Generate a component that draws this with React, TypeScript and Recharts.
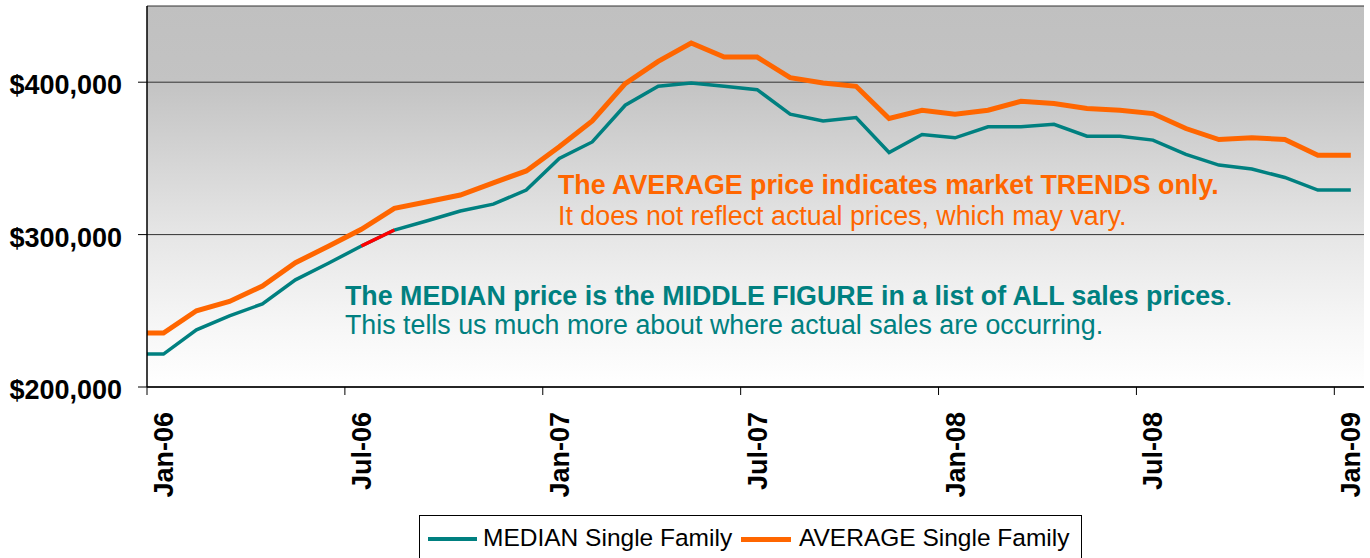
import React from 'react';
import { LineChart, Line, XAxis, YAxis, CartesianGrid } from 'recharts';

// one point per month, plotted mid-month (Dec-05 sits just left of the axis and gets clipped)
const months = [
  'Dec-05',
  'Jan-06', 'Feb-06', 'Mar-06', 'Apr-06', 'May-06', 'Jun-06',
  'Jul-06', 'Aug-06', 'Sep-06', 'Oct-06', 'Nov-06', 'Dec-06',
  'Jan-07', 'Feb-07', 'Mar-07', 'Apr-07', 'May-07', 'Jun-07',
  'Jul-07', 'Aug-07', 'Sep-07', 'Oct-07', 'Nov-07', 'Dec-07',
  'Jan-08', 'Feb-08', 'Mar-08', 'Apr-08', 'May-08', 'Jun-08',
  'Jul-08', 'Aug-08', 'Sep-08', 'Oct-08', 'Nov-08', 'Dec-08',
  'Jan-09',
];

const medianPrices = [
  221600, 221600, 237500, 246700, 254500, 270300, 281200,
  292500, 303000, 309100, 315500, 320000, 329200,
  350000, 360800, 384900, 397300, 399500, 397300,
  395100, 379000, 374600, 376800, 353900, 365700,
  363500, 370700, 370700, 372400, 364600, 364600,
  362000, 352600, 345600, 343000, 337500, 329200,
  329200,
];

const averagePrices = [
  235400, 235400, 250000, 256100, 266300, 281600, 292300,
  303500, 317200, 321600, 326000, 334000, 341800,
  357600, 374600, 399100, 413700, 425700, 416500,
  416500, 403000, 399500, 397300, 376200, 381600,
  379000, 381600, 387500, 386000, 382700, 381600,
  379400, 369600, 362400, 363500, 362400, 352100,
  352100,
];

// the short red piece of the median line
const highlightMonths = ['Jul-06', 'Aug-06'];

const monthTicks = [0, 6, 12, 18, 24, 30, 36];
const monthTickLabels = ['Jan-06', 'Jul-06', 'Jan-07', 'Jul-07', 'Jan-08', 'Jul-08', 'Jan-09'];
const priceTicks = [200000, 300000, 400000];

const FONT = '"Liberation Sans", Arial, sans-serif';
const TEAL = '#008080';
const ORANGE = '#FF6600';
const NOTE_SIZE = 26.8;

const chartData = months.map((m, i) => ({
  month: m,
  t: i - 1 + 0.5,
  median: medianPrices[i],
  average: averagePrices[i],
  highlight: highlightMonths.includes(m) ? medianPrices[i] : null,
}));

const formatPrice = (v: number) => '$' + v.toLocaleString('en-US');

const YTick = (props: any) => {
  const { x, y, payload } = props;
  return (
    <text x={x} y={y + 12} textAnchor="end" fontFamily={FONT} fontSize={27} fontWeight="bold" fill="#000">
      {formatPrice(payload.value)}
    </text>
  );
};

const XTick = (props: any) => {
  const { x, y, payload } = props;
  const idx = monthTicks.indexOf(payload.value);
  const ax = x + 26;
  const ay = y + 17;
  return (
    <text
      x={ax}
      y={ay}
      transform={`rotate(-90, ${ax}, ${ay})`}
      textAnchor="end"
      fontFamily={FONT}
      fontSize={27}
      fontWeight="bold"
      fill="#000"
    >
      {monthTickLabels[idx]}
    </text>
  );
};

const Notes: React.FC = () => (
  <svg width={1370} height={558} style={{ position: 'absolute', left: 0, top: 0, pointerEvents: 'none' }}>
    <text x={558} y={194} fontFamily={FONT} fontSize={NOTE_SIZE} fontWeight="bold" fill={ORANGE}>
      The AVERAGE price indicates market TRENDS only.
    </text>
    <text x={558} y={225} fontFamily={FONT} fontSize={NOTE_SIZE} fill={ORANGE}>
      It does not reflect actual prices, which may vary.
    </text>
    <text x={345} y={305} fontFamily={FONT} fontSize={NOTE_SIZE} fill={TEAL}>
      <tspan fontWeight="bold">The MEDIAN price is the MIDDLE FIGURE in a list of ALL sales prices</tspan>
      <tspan>.</tspan>
    </text>
    <text x={345} y={334} fontFamily={FONT} fontSize={NOTE_SIZE} fill={TEAL}>
      This tells us much more about where actual sales are occurring.
    </text>
  </svg>
);

const LegendBox: React.FC = () => (
  <div
    style={{
      position: 'absolute',
      left: 419,
      top: 515,
      width: 663,
      height: 50,
      border: '1px solid #000',
      background: '#fff',
      fontFamily: FONT,
      fontSize: 24.5,
      color: '#000',
      boxSizing: 'border-box',
    }}
  >
    <div style={{ position: 'absolute', left: 8, top: 21, width: 49, height: 4, background: TEAL }} />
    <div style={{ position: 'absolute', left: 63, top: 8, whiteSpace: 'nowrap' }}>MEDIAN Single Family</div>
    <div style={{ position: 'absolute', left: 321, top: 21, width: 50, height: 5, background: ORANGE }} />
    <div style={{ position: 'absolute', left: 379, top: 8, whiteSpace: 'nowrap' }}>AVERAGE Single Family</div>
  </div>
);

const App: React.FC = () => {
  return (
    <div style={{ position: 'absolute', left: 0, top: 0, width: 1370, height: 558, background: '#fff', overflow: 'hidden' }}>
      <svg width={0} height={0} style={{ position: 'absolute' }}>
        <defs>
          <linearGradient id="plotBg" x1="0" y1="0" x2="0" y2="1">
            <stop offset="0%" stopColor="#c0c0c0" />
            <stop offset="20%" stopColor="#c3c3c3" />
            <stop offset="60%" stopColor="#e6e6e6" />
            <stop offset="85%" stopColor="#f7f7f7" />
            <stop offset="100%" stopColor="#ffffff" />
          </linearGradient>
        </defs>
      </svg>
      <LineChart width={1370} height={558} data={chartData} margin={{ top: 6, right: 6, bottom: 0, left: 0 }}>
        <CartesianGrid vertical={false} stroke="#333" fill="url(#plotBg)" fillOpacity={1} />
        <XAxis
          dataKey="t"
          type="number"
          domain={[0, 36.9]}
          ticks={monthTicks}
          interval={0}
          allowDataOverflow
          height={171}
          tickSize={8}
          tickMargin={0}
          tick={<XTick />}
          axisLine={{ stroke: '#000', strokeWidth: 1.5 }}
          tickLine={{ stroke: '#000' }}
        />
        <XAxis
          xAxisId="top"
          orientation="top"
          dataKey="t"
          type="number"
          domain={[0, 36.9]}
          allowDataOverflow
          height={0}
          tick={false}
          tickLine={false}
          axisLine={{ stroke: '#999' }}
        />
        <YAxis
          type="number"
          domain={[200000, 450000]}
          ticks={priceTicks}
          interval={0}
          width={147}
          tickSize={9}
          tickMargin={16}
          tick={<YTick />}
          axisLine={{ stroke: '#000', strokeWidth: 1.5 }}
          tickLine={{ stroke: '#000' }}
        />
        <YAxis
          yAxisId="right"
          orientation="right"
          type="number"
          domain={[200000, 450000]}
          width={0}
          tick={false}
          tickLine={false}
          axisLine={{ stroke: '#999' }}
        />
        <Line
          type="linear"
          dataKey="median"
          name="MEDIAN Single Family"
          stroke={TEAL}
          strokeWidth={3.5}
          dot={false}
          isAnimationActive={false}
        />
        <Line
          type="linear"
          dataKey="highlight"
          stroke="#FF0000"
          strokeWidth={3.5}
          dot={false}
          legendType="none"
          isAnimationActive={false}
        />
        <Line
          type="linear"
          dataKey="average"
          name="AVERAGE Single Family"
          stroke={ORANGE}
          strokeWidth={5}
          dot={false}
          isAnimationActive={false}
        />
      </LineChart>
      <Notes />
      <LegendBox />
    </div>
  );
};

export default App;
